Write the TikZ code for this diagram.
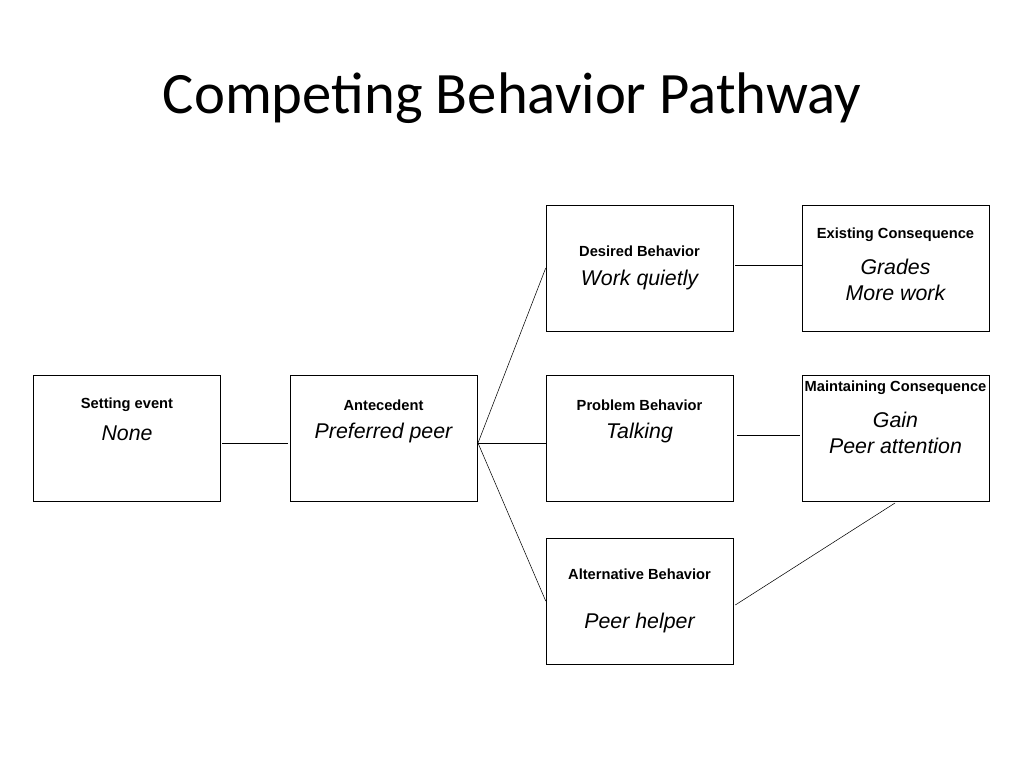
\documentclass[tikz,border=0pt]{standalone}
\usepackage{fontspec}
\setmainfont{Liberation Sans}
\newfontfamily\titlefont{Carlito}
\usetikzlibrary{positioning}
\tikzset{box/.style={draw,minimum width=140.25pt,minimum height=94.5pt,inner sep=0pt},
  head/.style={font=\bfseries\fontsize{11}{13}\selectfont,inner sep=0pt},
  body/.style={font=\itshape\fontsize{16}{19}\selectfont,inner sep=0pt,align=center}}
\begin{document}
\begin{tikzpicture}[x=0.75pt,y=-0.75pt]
  \useasboundingbox (0,0) rectangle (1024,768);
  \node[font=\titlefont\fontsize{44}{50}\selectfont] (title) at (512,98) {Competing Behavior Pathway};

  \node[box] (set) at (127,438) {};
  \node[box] (ant) at (383.5,438) {};
  \node[box] (des) at (639.5,268) {};
  \node[box] (prob) at (639.5,438) {};
  \node[box] (alt) at (639.5,601) {};
  \node[box] (exist) at (895.5,268) {};
  \node[box] (maint) at (895.5,438) {};

  \node[head] (sett) at (127,405) {Setting event};
  \node[body] (setb) at (127,433) {None};
  \node[head] (antt) at (383.5,405) {Antecedent};
  \node[body] (antb) at (383.5,433) {Preferred peer};
  \node[head] (dest) at (639.5,251) {Desired Behavior};
  \node[body] (desb) at (639.5,280) {Work quietly};
  \node[head] (probt) at (639.5,405) {Problem Behavior};
  \node[body] (probb) at (639.5,433) {Talking};
  \node[head] (altt) at (639.5,574) {Alternative Behavior};
  \node[body] (altb) at (639.5,623) {Peer helper};
  \node[head] (existt) at (895.5,235) {Existing Consequence};
  \node[body] (existb) at (895.5,280) {Grades\\More work};
  \node[head] (maintt) at (895.5,388) {Maintaining Consequence};
  \node[body] (maintb) at (895.5,433) {Gain\\Peer attention};

  \coordinate (a1) at (222,443);
  \coordinate (a2) at (288,443);
  \coordinate (fork) at (478,443);
  \draw (a1) -- (a2);
  \draw (fork) -- (des.west);
  \draw (fork) -- (546,443);
  \draw (fork) -- (alt.west);
  \draw (des.east) ++(2,-3) coordinate (d1) -- (exist.west |- d1);
  \coordinate (p1) at (737,435);
  \coordinate (p2) at (800,435);
  \draw (p1) -- (p2);
  \coordinate (m1) at (895,503);
  \draw (alt.east) ++(2,4) coordinate (al1) -- (m1);
\end{tikzpicture}
\end{document}
